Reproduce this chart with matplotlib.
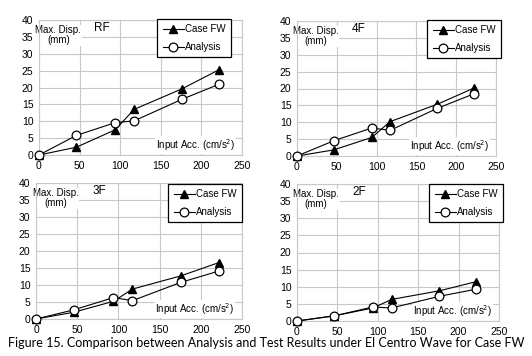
import matplotlib
matplotlib.use("Agg")
import matplotlib.pyplot as plt

plt.rcParams["font.family"] = ["Liberation Sans", "DejaVu Sans"]

acc_x = [0, 46, 94, 117, 176, 222]

floors = ["RF", "4F", "3F", "2F"]
case_fw = {
    "RF": [0, 2.3, 7.5, 13.5, 19.6, 25.3],
    "4F": [0, 1.8, 5.5, 10.2, 15.3, 20.1],
    "3F": [0, 2.0, 5.2, 8.8, 12.7, 16.6],
    "2F": [0, 1.5, 3.8, 6.3, 8.8, 11.5],
}
analysis = {
    "RF": [0, 5.8, 9.6, 10.1, 16.5, 21.0],
    "4F": [0, 4.5, 8.3, 7.6, 14.1, 18.4],
    "3F": [0, 2.7, 6.3, 5.4, 10.8, 14.1],
    "2F": [0, 1.5, 4.1, 3.8, 7.2, 9.3],
}
xticks = [0, 50, 100, 150, 200, 250]
yticks = [0, 5, 10, 15, 20, 25, 30, 35, 40]
caption = "Figure 15. Comparison between Analysis and Test Results under El Centro Wave for Case FW"

W, H = 532, 356
fig = plt.figure(figsize=(W / 100, H / 100), dpi=100)

# axes boxes in pixels: left, top, right, bottom
boxes = {
    "RF": (39, 20, 242, 155),
    "4F": (297, 21, 496, 156),
    "3F": (36, 183, 242, 319),
    "2F": (297, 184, 499, 321),
}
# legend upper-right corners in pixels
leg_corner = {
    "RF": (231, 19),
    "4F": (501, 20),
    "3F": (242, 184),
    "2F": (503, 184),
}

for fl in floors:
    l, t, r, b = boxes[fl]
    ax = fig.add_axes([l / W, 1 - b / H, (r - l) / W, (b - t) / H])
    ax.set_xlim(0, 250)
    ax.set_ylim(0, 40)
    ax.set_xticks(xticks)
    ax.set_yticks(yticks)
    ax.grid(True, color="#c8c8c8", lw=0.8)
    ax.set_axisbelow(True)
    for s in ax.spines.values():
        s.set_color("#c8c8c8")
        s.set_linewidth(0.8)
    ax.tick_params(length=0, labelsize=7.5, pad=4)
    ax.plot(acc_x, case_fw[fl], "-^", color="black", lw=0.8, ms=6,
            mfc="black", label="Case FW", clip_on=False, zorder=3)
    ax.plot(acc_x, analysis[fl], "-o", color="black", lw=0.8, ms=6.3,
            mfc="white", mew=0.9, label="Analysis", clip_on=False, zorder=3)
    ax.text(0.095, 0.96, "Max. Disp.\n(mm)", transform=ax.transAxes,
            ha="center", va="top", fontsize=7, linespacing=0.95, zorder=2,
            bbox=dict(fc="white", ec="none", pad=0.5))
    ax.text(0.31, 0.985, fl, transform=ax.transAxes, ha="center", va="top",
            fontsize=8.5, zorder=2)
    ax.text(0.965, 0.015, "Input Acc. (cm/s$^2$)", transform=ax.transAxes,
            ha="right", va="bottom", fontsize=7, zorder=2,
            bbox=dict(fc="white", ec="none", pad=0.5))

    cx, cy = leg_corner[fl]
    leg = ax.legend(loc="upper right",
                    bbox_to_anchor=((cx - l) / (r - l), (b - cy) / (b - t)),
                    fontsize=7, frameon=True, fancybox=False, framealpha=1,
                    numpoints=1, handlelength=2.2, handletextpad=0.1,
                    borderpad=0.55, labelspacing=0.8, borderaxespad=0)
    leg.get_frame().set_edgecolor("black")
    leg.get_frame().set_linewidth(0.9)
    leg.set_zorder(6)

fig.text(0.5, 1 - 343 / H, caption, ha="center", va="center",
         fontsize=9.0, family=["Lato", "DejaVu Sans"])

fig.savefig("out.png", dpi=100)
